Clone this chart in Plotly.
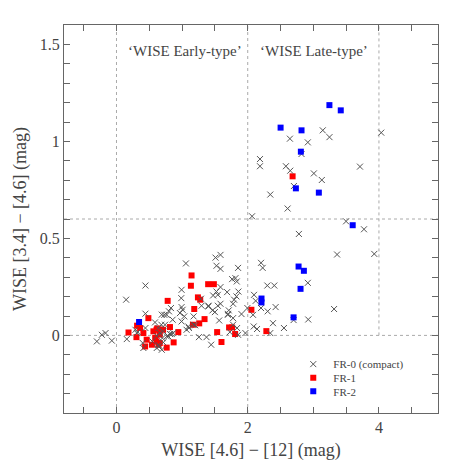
import plotly.graph_objects as go

# FR-0 (compact) sources
fr0_x = [4.035, 3.144, 3.246, 2.643, 2.916, 2.820, 2.187, 2.187, 2.582, 2.648, 3.711, 3.008, 3.129, 2.704,
         2.344, 2.608, 2.066, 3.499, 3.772, 2.780, 3.362, 3.929, 3.316, 2.916, 2.922, 2.699, 2.552, 2.385,
         2.344, 2.425, 2.304, 2.299, 2.405, 2.203, 2.228, 2.203, 2.096, 2.121, 2.081, 2.091, 2.142, 1.995,
         1.965, 1.905,
         1.853, 1.838, 1.853, 1.813, 1.833, 1.762, 1.858, 1.828, 1.793, 1.686, 1.777, 1.711, 1.696, 1.777,
         1.777, 1.585, 1.509, 1.524, 1.585, 1.585, 1.524, 1.473, 1.544, 1.585, 1.544, 1.463, 1.402, 1.296,
         1.565, 1.443, 1.372, 1.256, 1.728,
         1.058, 0.992, 0.987, 0.992, 1.008, 0.967, 0.992, 1.033, 1.068, 1.104, 1.175, 1.175, 0.830, 0.800,
         0.856, 0.729, 0.765, 0.815, 0.866, 1.287, 1.400, 1.500, 1.700, 1.094, 1.200, 0.842, 0.790,
         0.441, 0.441, 0.147, 0.441, 0.289, 0.324, 0.157, 0.400, -0.071, -0.299, -0.223, -0.167, 0.587,
         0.613, 0.663, 0.699, 0.714, 0.638, 0.684, 0.690, 0.740, 0.640, 0.610, 0.714, 0.410, 0.547, 0.649,
         0.766, 0.690, 0.310]
fr0_y = [1.045, 1.057, 1.022, 1.014, 0.995, 0.935, 0.909, 0.872, 0.872, 0.849, 0.870, 0.835, 0.801, 0.770,
         0.726, 0.654, 0.614, 0.588, 0.547, 0.523, 0.417, 0.420, 0.136, 0.271, 0.082, 0.079, 0.038, 0.063,
         0.012, 0.146, 0.124, 0.257, 0.257, 0.374, 0.348, 0.141, 0.209, 0.178, 0.106, 0.046, 0.033, 0.141,
         0.012, 0.110,
         0.003, 0.038, 0.348, 0.295, 0.278, 0.290, 0.226, 0.201, 0.184, 0.223, 0.163, 0.129, 0.106, 0.089,
         0.055, 0.415, 0.401, 0.359, 0.343, 0.249, 0.226, 0.206, 0.209, 0.163, 0.153, 0.129, 0.153, 0.153,
         0.077, -0.048, -0.009, -0.009, 0.017,
         0.371, 0.235, 0.192, 0.146, 0.132, 0.115, 0.072, 0.098, 0.029, 0.038, 0.098, 0.055, 0.141, 0.124,
         0.081, 0.106, 0.106, 0.007, 0.012, 0.189, 0.149, 0.120, 0.111, 0.046, 0.052, 0.007, -0.005,
         0.257, 0.112, 0.184, 0.038, 0.029, 0.017, -0.019, -0.039, -0.027, -0.031, 0.003, 0.012, 0.067,
         -0.065, 0.012, -0.014, -0.036, -0.048, 0.055, 0.107, 0.055, 0.038, -0.002, 0.021, -0.065, -0.031,
         -0.057, -0.005, -0.074, 0.012]

# FR-1 sources
fr1_x = [2.684, 1.144, 1.134, 1.397, 1.484, 0.780, 1.241, 1.276, 1.185, 2.056, 1.342, 1.261, 1.165, 0.486,
         1.716, 1.762, 1.534, 1.808, 1.600, 2.284, 0.942, 0.815, 0.871, 0.765, 0.183, 0.314, 0.304, 0.360,
         0.410, 0.460, 0.563, 0.610, 0.660, 0.540, 0.436, 0.610, 0.660, 0.590, 0.660, 0.620, 0.710, 0.640]
fr1_y = [0.820, 0.309, 0.256, 0.264, 0.264, 0.178, 0.196, 0.184, 0.136, 0.132, 0.084, 0.062, 0.055, 0.089,
         0.041, 0.041, 0.017, 0.007, -0.034, 0.022, 0.017, 0.043, -0.036, -0.063, 0.015, 0.050, -0.009, 0.038,
         0.012, -0.022, 0.021, 0.029, 0.030, -0.048, -0.057, -0.031, -0.039, -0.013, 0.004, 0.036, 0.029, -0.048]

# FR-2 sources
fr2_x = [3.245, 3.418, 2.501, 2.820, 2.810, 2.734, 3.084, 3.600, 2.775, 2.856, 2.805, 2.210, 2.210, 2.699, 0.344]
fr2_y = [1.187, 1.160, 1.071, 1.057, 0.947, 0.758, 0.736, 0.568, 0.355, 0.333, 0.240, 0.190, 0.170, 0.093, 0.069]

FONT = "Liberation Serif"
TXT = "#444444"
FRAME = "#666666"

fig = go.Figure()

fig.add_trace(go.Scatter(x=fr1_x, y=fr1_y, mode='markers', name='FR-1', legend='legend2',
                         marker=dict(symbol='square', size=6, color='#ff0000', line=dict(width=0))))
fig.add_trace(go.Scatter(x=fr0_x, y=fr0_y, mode='markers', name='FR-0 (compact)', legend='legend',
                         marker=dict(symbol='x-thin', size=6, line=dict(width=1, color='#555555'))))
fig.add_trace(go.Scatter(x=fr2_x, y=fr2_y, mode='markers', name='FR-2', legend='legend3',
                         marker=dict(symbol='square', size=6, color='#0000ff', line=dict(width=0))))

# dotted dividing lines
dot = dict(color='#aaaaaa', width=1, dash='dot')
fig.add_shape(type='line', xref='x', yref='paper', x0=0, x1=0, y0=0, y1=1, line=dot, layer='below')
fig.add_shape(type='line', xref='x', yref='paper', x0=2, x1=2, y0=0, y1=1, line=dot, layer='below')
fig.add_shape(type='line', xref='x', yref='y', x0=4, x1=4, y0=0, y1=1.6, line=dot, layer='below')
fig.add_shape(type='line', xref='paper', yref='y', x0=0, x1=1, y0=0, y1=0, line=dot, layer='below')
fig.add_shape(type='line', xref='paper', yref='y', x0=0, x1=1, y0=0.6, y1=0.6, line=dot, layer='below')

fig.add_annotation(x=1.05, y=1.465, text="‘WISE Early-type’", showarrow=False,
                   font=dict(family=FONT, size=15, color=TXT))
fig.add_annotation(x=3.01, y=1.465, text="‘WISE Late-type’", showarrow=False,
                   font=dict(family=FONT, size=15, color=TXT))

leg = dict(x=0.613, xanchor='left', yanchor='middle', bgcolor='rgba(0,0,0,0)',
           font=dict(family=FONT, size=11, color=TXT), itemwidth=30)

axis_common = dict(showline=True, linecolor=FRAME, linewidth=1, mirror='ticks', ticks='inside',
                   ticklen=6, tickwidth=1, tickcolor=FRAME, showgrid=False, zeroline=False,
                   automargin=False, tickfont=dict(family=FONT, size=16, color=TXT))

fig.update_layout(
    width=463, height=463,
    margin=dict(l=64, r=25, t=25, b=50),
    plot_bgcolor='white', paper_bgcolor='white',
    showlegend=True,
    legend=dict(leg, y=0.126),
    legend2=dict(leg, y=0.091),
    legend3=dict(leg, y=0.056),
    xaxis=dict(axis_common, range=[-0.8, 4.9], tick0=0, dtick=2,
               minor=dict(dtick=0.5, tick0=0, ticks='inside', ticklen=6, tickcolor=FRAME),
               title=dict(text="WISE [4.6] − [12] (mag)", font=dict(family=FONT, size=18, color=TXT), standoff=8)),
    yaxis=dict(axis_common, range=[-0.4, 1.6], tickvals=[0, 0.5, 1, 1.5], ticktext=['0', '0.5', '1', '1.5'],
               minor=dict(dtick=0.1, tick0=0, ticks='inside', ticklen=6, tickcolor=FRAME),
               title=dict(text="WISE [3.4] − [4.6] (mag)", font=dict(family=FONT, size=18, color=TXT), standoff=8)),
)

# drop the page's default body margin so the figure sits at the window's corner
fig.write_html("out.html", config={'displayModeBar': False},
               post_script="document.body.style.margin='0';")
